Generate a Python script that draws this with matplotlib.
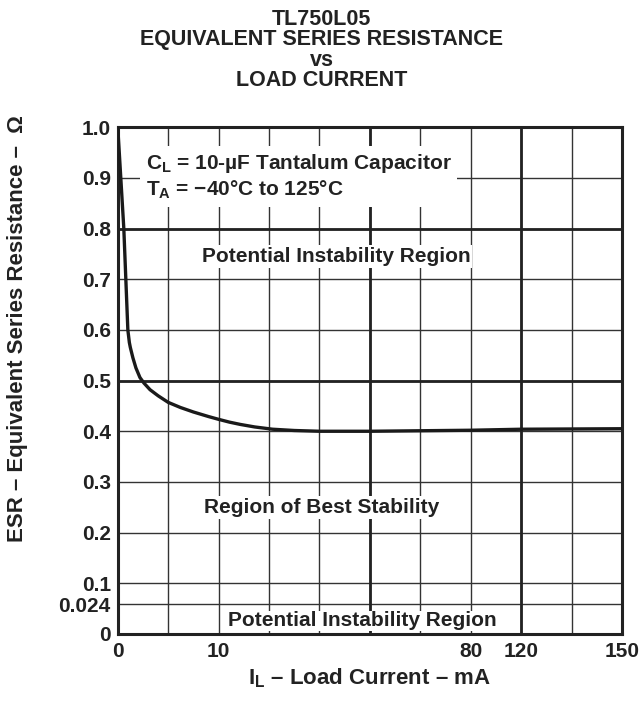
import matplotlib.pyplot as plt
import numpy as np

plt.rcParams['font.family'] = ['Liberation Sans', 'DejaVu Sans']
plt.rcParams['font.weight'] = 'bold'
plt.rcParams['mathtext.fontset'] = 'custom'
plt.rcParams['mathtext.rm'] = 'Liberation Sans:bold'
plt.rcParams['mathtext.bf'] = 'Liberation Sans:bold'
plt.rcParams['mathtext.default'] = 'rm'

# load current (mA) vs ESR (ohm)
load_ma = [0, 0.3, 0.6, 0.8, 1.0, 1.15, 1.25, 1.5, 1.8, 2.2, 2.6, 3.2, 4.0, 5.0, 6.2,
           7.5, 9.0, 10.0, 13.0, 16.0, 20.0, 25.0, 31.0, 38.0, 52.0, 66.0, 80.0, 120.0, 150.0]
esr_ohm = [1.0, 0.9, 0.8, 0.7, 0.6, 0.575, 0.565, 0.545, 0.525, 0.506, 0.495, 0.482, 0.47,
           0.457, 0.447, 0.438, 0.429, 0.4235, 0.418, 0.4135, 0.4085, 0.404, 0.4015, 0.4,
           0.4, 0.401, 0.402, 0.404, 0.405]

# the axes are piecewise linear: tick value -> grid division
x_ticks = [0, 10, 80, 120, 150]
x_div = [0, 2, 7, 8, 10]
x_minor = [5, 24, 38, 52, 66, 135]
y_ticks = [0, 0.024, 0.1, 0.2, 0.3, 0.4, 0.5, 0.6, 0.7, 0.8, 0.9, 1.0]
y_labels = ['0', '0.024', '0.1', '0.2', '0.3', '0.4', '0.5', '0.6', '0.7', '0.8', '0.9', '1.0']
y_break = [0, 0.024, 0.1, 1.0]
y_div = [0, 0.59, 1, 10]

ink = '#222222'

fig = plt.figure(figsize=(6.4, 7.01), dpi=100)
ax = fig.add_axes([0.184, 0.0956, 0.788, 0.723])

ax.set_xscale('function', functions=(lambda v: np.interp(v, x_ticks, x_div),
                                     lambda d: np.interp(d, x_div, x_ticks)))
ax.set_yscale('function', functions=(lambda v: np.interp(v, y_break, y_div),
                                     lambda d: np.interp(d, y_div, y_break)))
ax.set_xlim(0, 150)
ax.set_ylim(0, 1.0)

ax.set_xticks(x_ticks)
ax.set_xticklabels([str(t) for t in x_ticks])
ax.set_xticks(x_minor, minor=True)
ax.set_yticks(y_ticks)
ax.set_yticklabels(y_labels)
ax.tick_params(which='both', length=0, labelsize=15, colors=ink)
ax.tick_params(axis='x', pad=6)
ax.tick_params(axis='y', pad=5)

ax.grid(which='both', color='#333333', linewidth=1.0)
for v in [0.8, 0.5]:
    ax.axhline(v, color=ink, linewidth=2.0)
for v in [52, 120]:
    ax.axvline(v, color=ink, linewidth=2.0)
for s in ax.spines.values():
    s.set_linewidth(2.2)
    s.set_color(ink)

ax.plot(load_ma, esr_ohm, color='#1a1a1a', linewidth=2.4, zorder=5)

box = dict(facecolor='white', edgecolor='none', pad=1.5)
ax.text(2.78, 0.902, 'C$_{L}$ = 10-µF Tantalum Capacitor\nT$_{A}$ = \u221240°C to 125°C',
        fontsize=15, color=ink, va='center', ha='left', linespacing=1.22,
        bbox=dict(facecolor='white', edgecolor='none', pad=4), zorder=6)
ax.text(42.6, 0.745, 'Potential Instability Region', fontsize=15, color=ink,
        ha='center', va='center', bbox=box, zorder=6)
ax.text(38.7, 0.25, 'Region of Best Stability', fontsize=15, color=ink,
        ha='center', va='center', bbox=box, zorder=6)
ax.text(50, 0.0105, 'Potential Instability Region', fontsize=15, color=ink,
        ha='center', va='center', bbox=dict(facecolor='white', edgecolor='none', pad=0.3),
        zorder=6)

fig.text(0.503, 0.987, 'TL750L05\nEQUIVALENT SERIES RESISTANCE\nvs\nLOAD CURRENT',
         ha='center', va='top', fontsize=15.5, fontweight='bold', color=ink, linespacing=0.95)
ax.set_xlabel('I$_{L}$ \u2013 Load Current \u2013 mA', fontsize=16, fontweight='bold',
              color=ink, labelpad=4)
fig.text(0.028, 0.531, 'ESR \u2013 Equivalent Series Resistance \u2013  Ω', rotation=90,
         ha='center', va='center', fontsize=16, fontweight='bold', color=ink)

fig.savefig('out.png', dpi=100)
